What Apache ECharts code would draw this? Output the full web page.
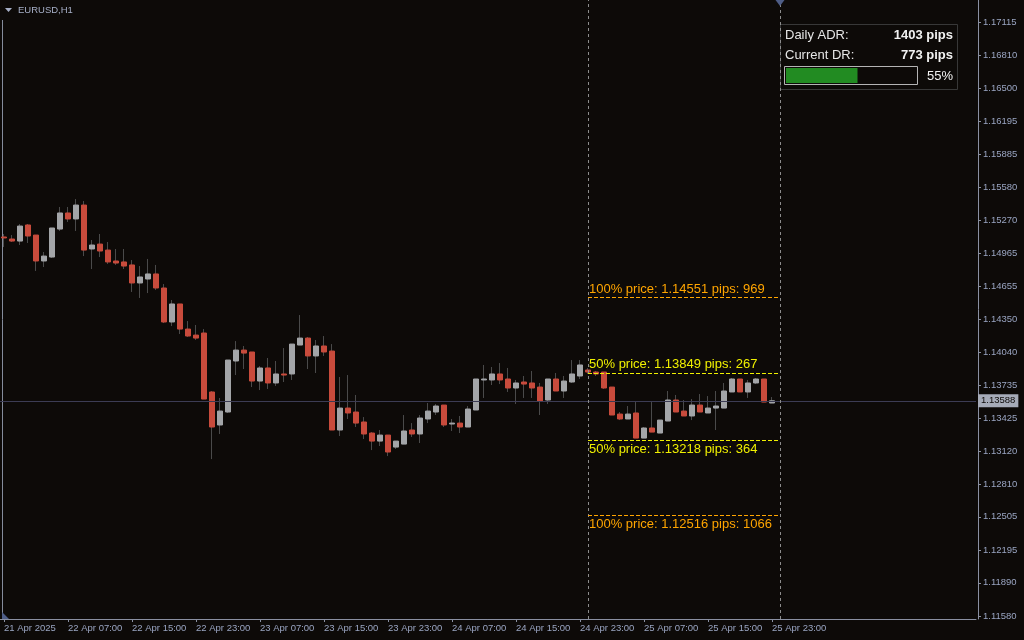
<!DOCTYPE html>
<html><head><meta charset="utf-8">
<script src="https://cdn.jsdelivr.net/npm/echarts@6/dist/echarts.min.js"></script>
<style>html,body{margin:0;padding:0;background:#0d0a08}#c{width:1024px;height:640px}</style>
</head><body><div id="c"></div>
<script>
const symbolName = "EURUSD,H1";
const tickLabels = ["21 Apr 2025","22 Apr 07:00","22 Apr 15:00","22 Apr 23:00","23 Apr 07:00","23 Apr 15:00","23 Apr 23:00","24 Apr 07:00","24 Apr 15:00","24 Apr 23:00","25 Apr 07:00","25 Apr 15:00","25 Apr 23:00"];
const opens = [1.15116,1.15097,1.15078,1.15228,1.15134,1.14892,1.14929,1.15190,1.15340,1.15284,
1.15414,1.15004,1.15050,1.14994,1.14892,1.14883,1.14855,1.14687,1.14724,1.14771,
1.14640,1.14323,1.14491,1.14257,1.14201,1.14220,1.13670,1.13362,1.13483,1.13959,
1.14061,1.14043,1.13772,1.13894,1.13754,1.13838,1.13838,1.14108,1.14173,1.14006,
1.14099,1.14052,1.13315,1.13520,1.13483,1.13390,1.13287,1.13212,1.13268,1.13156,
1.13184,1.13315,1.13278,1.13418,1.13483,1.13548,1.13371,1.13380,1.13343,1.13502,
1.13782,1.13782,1.13838,1.13791,1.13707,1.13763,1.13754,1.13716,1.13595,1.13791,
1.13679,1.13763,1.13819,1.13875,1.13856,1.13856,1.13716,1.13464,1.13418,1.13474,
1.13240,1.13334,1.13287,1.13399,1.13595,1.13492,1.13446,1.13548,1.13474,1.13520,
1.13520,1.13670,1.13791,1.13670,1.13754,1.13791,1.13567];
const closes = [1.15107,1.15078,1.15218,1.15125,1.14892,1.14938,1.15200,1.15340,1.15284,1.15414,
1.14994,1.15041,1.14985,1.14883,1.14873,1.14845,1.14687,1.14743,1.14771,1.14640,
1.14323,1.14491,1.14257,1.14192,1.14173,1.13604,1.13343,1.13492,1.13968,1.14061,
1.14033,1.13772,1.13894,1.13754,1.13838,1.13828,1.14117,1.14173,1.14006,1.14099,
1.14043,1.13315,1.13520,1.13474,1.13380,1.13278,1.13212,1.13268,1.13110,1.13212,
1.13306,1.13278,1.13427,1.13492,1.13539,1.13362,1.13380,1.13343,1.13511,1.13791,
1.13791,1.13838,1.13782,1.13707,1.13754,1.13744,1.13707,1.13586,1.13791,1.13679,
1.13772,1.13838,1.13922,1.13856,1.13838,1.13707,1.13455,1.13418,1.13464,1.13240,
1.13334,1.13296,1.13408,1.13595,1.13483,1.13446,1.13548,1.13483,1.13520,1.13539,
1.13679,1.13791,1.13670,1.13754,1.13791,1.13576,1.13588];
const highs = [1.15144,1.15134,1.15237,1.15237,1.15134,1.14976,1.15200,1.15396,1.15396,1.15470,
1.15452,1.15088,1.15144,1.15069,1.15004,1.15004,1.14901,1.14845,1.14911,1.14855,
1.14677,1.14528,1.14491,1.14332,1.14295,1.14257,1.13679,1.13614,1.13968,1.14145,
1.14099,1.14043,1.13912,1.13987,1.13959,1.14080,1.14117,1.14388,1.14183,1.14155,
1.14192,1.14117,1.13810,1.13828,1.13642,1.13436,1.13296,1.13315,1.13268,1.13212,
1.13455,1.13380,1.13455,1.13567,1.13558,1.13548,1.13418,1.13446,1.13539,1.13791,
1.13922,1.13903,1.13940,1.13894,1.13782,1.13819,1.13866,1.13754,1.13791,1.13847,
1.13819,1.13968,1.13968,1.13894,1.13866,1.13856,1.13716,1.13483,1.13539,1.13576,
1.13343,1.13576,1.13408,1.13679,1.13642,1.13595,1.13604,1.13651,1.13632,1.13679,
1.13754,1.13800,1.13791,1.13782,1.13800,1.13791,1.13623];
const lows = [1.15022,1.15069,1.15041,1.15060,1.14799,1.14836,1.14920,1.15172,1.15256,1.15172,
1.14938,1.14817,1.14929,1.14864,1.14855,1.14817,1.14603,1.14547,1.14593,1.14621,
1.14313,1.14285,1.14211,1.14183,1.14155,1.13604,1.13044,1.13278,1.13474,1.13828,
1.13884,1.13716,1.13688,1.13698,1.13726,1.13763,1.13782,1.14108,1.13884,1.13847,
1.14006,1.13315,1.13259,1.13418,1.13343,1.13231,1.13128,1.13166,1.13072,1.13138,
1.13184,1.13250,1.13194,1.13380,1.13455,1.13343,1.13306,1.13287,1.13343,1.13502,
1.13614,1.13735,1.13744,1.13670,1.13558,1.13614,1.13614,1.13455,1.13558,1.13679,
1.13614,1.13754,1.13791,1.13838,1.13819,1.13698,1.13455,1.13408,1.13418,1.13240,
1.13240,1.13296,1.13287,1.13399,1.13483,1.13446,1.13408,1.13483,1.13474,1.13315,
1.13520,1.13670,1.13670,1.13614,1.13744,1.13576,1.13567];
const yTicks = [1.17115,1.16810,1.16500,1.16195,1.15885,1.15580,1.15270,1.14965,1.14655,1.14350,1.14040,1.13735,1.13425,1.13120,1.12810,1.12505,1.12195,1.11890,1.11580];
const currentPrice = 1.13588;
const levelNames = ["100% price: 1.14551 pips: 969","50% price: 1.13849 pips: 267","50% price: 1.13218 pips: 364","100% price: 1.12516 pips: 1066"];
const levelPrices = [1.14551,1.13849,1.13218,1.12516];
const infoLabels = ["Daily ADR:","Current DR:"];
const infoValues = [1403, 773];

const Y_MIN = 1.11552, Y_MAX = 1.17327;
const SLOTS = 122;           // visible bar slots incl. chart shift
const DAY_START = 73, SHIFT_START = 97;
const BG = '#0d0a08', AX = '#9aa5c2', WICK = '#4a4a4a', UP = '#a3a5a8', DOWN = '#c84b3c';
const FONT = "'Liberation Sans', Arial, sans-serif";

const categories = Array.from({length: SLOTS}, (_, i) => {
  const d = new Date(Date.UTC(2025, 3, 21, 23) + i * 3600e3);
  const m = ['Jan','Feb','Mar','Apr','May','Jun','Jul','Aug','Sep','Oct','Nov','Dec'][d.getUTCMonth()];
  return d.getUTCDate() + ' ' + m + ' ' + String(d.getUTCHours()).padStart(2,'0') + ':00';
});
const wickData = opens.map((o, i) => [o, closes[i], lows[i], highs[i]]);
const bodyData = opens.map((o, i) => [o, closes[i], Math.min(o, closes[i]), Math.max(o, closes[i])]);
const isTick = idx => idx % 8 === 0 && idx / 8 < tickLabels.length;

const levelColors = ['#ffa500','#f0f000','#f0f000','#ffa500'];
const levelLines = levelPrices.map((p, i) => [
  {coord: [DAY_START, p], lineStyle: {color: levelColors[i], type: [4, 2], width: 1},
   label: {show: true, formatter: levelNames[i], color: levelColors[i], fontSize: 13, fontFamily: FONT,
           position: i < 2 ? 'insideStartTop' : 'insideStartBottom', distance: [1, 2]}},
  {coord: [SHIFT_START, p]}
]);

const pct = Math.round(infoValues[1] / infoValues[0] * 100);
const chart = echarts.init(document.getElementById('c'), null, {renderer: 'canvas'});
chart.setOption({
  backgroundColor: BG,
  animation: false,
  grid: {left: 0, right: 48, top: 0, bottom: 21, containLabel: false, outerBoundsMode: 'none'},
  xAxis: {
    type: 'category', data: categories, boundaryGap: true,
    axisLine: {lineStyle: {color: '#8a90a2', width: 1}},
    axisTick: {show: true, alignWithLabel: true, length: 3, interval: (idx) => isTick(idx), lineStyle: {color: '#8a90a2'}},
    axisLabel: {interval: (idx) => isTick(idx), formatter: (v, idx) => tickLabels[idx / 8], align: 'left',
                color: AX, fontSize: 9.5, fontFamily: FONT, margin: 4},
    splitLine: {show: false}
  },
  yAxis: {
    type: 'value', position: 'right', min: Y_MIN, max: Y_MAX, offset: 2, scale: true,
    axisLine: {show: true, lineStyle: {color: '#8a90a2'}},
    axisTick: {show: true, length: 3, customValues: yTicks, lineStyle: {color: '#8a90a2'}},
    axisLabel: {customValues: yTicks, formatter: v => v.toFixed(5), color: AX, fontSize: 9.5, fontFamily: FONT, margin: 5},
    splitLine: {show: false}
  },
  series: [
    {
      type: 'line', name: 'guides', data: [], silent: true, showSymbol: false, z: 1,
      markLine: {
        silent: true, symbol: ['none','none'], animation: false, precision: 5,
        data: [
          {yAxis: currentPrice, lineStyle: {color: '#3c3c54', type: 'solid', width: 1},
           label: {show: true, position: 'end', formatter: currentPrice.toFixed(5), backgroundColor: '#a6abb8',
                   color: '#0d0a08', fontSize: 9.5, fontFamily: FONT, padding: [2, 3, 1, 3], distance: 2}},
          {xAxis: DAY_START, lineStyle: {color: '#8c8c8c', type: [3, 3], width: 1}, label: {show: false}},
          {xAxis: SHIFT_START, lineStyle: {color: '#8c8c8c', type: [3, 3], width: 1}, label: {show: false}}
        ]
      },
      markPoint: {
        silent: true, animation: false,
        data: [{coord: [SHIFT_START, Y_MAX], symbol: 'triangle', symbolSize: [9, 6], symbolRotate: 180, symbolOffset: [0, 3],
                itemStyle: {color: '#4e5d86'}, label: {show: false}}]
      }
    },
    {
      type: 'candlestick', name: 'wick', data: wickData, barWidth: 0.1, silent: true, z: 2,
      itemStyle: {color: WICK, color0: WICK, borderColor: WICK, borderColor0: WICK, borderWidth: 1}
    },
    {
      type: 'candlestick', name: 'body', data: bodyData, barWidth: 6, silent: true, z: 3,
      itemStyle: {color: UP, color0: DOWN, borderColor: UP, borderColor0: DOWN, borderWidth: 1},
      markLine: {silent: true, symbol: ['none','none'], animation: false, precision: 5, data: levelLines}
    }
  ],
  graphic: [
    {type: 'line', shape: {x1: 2.5, y1: 20, x2: 2.5, y2: 619}, style: {stroke: '#858c9c', lineWidth: 1}},
    {type: 'polygon', shape: {points: [[2, 612], [2, 619], [9, 619]]}, style: {fill: '#4e5d86'}},
    {type: 'polygon', shape: {points: [[5, 8], [12, 8], [8.5, 12]]}, style: {fill: '#a7b0c8'}},
    {type: 'text', x: 18, y: 10, style: {text: symbolName, fill: '#a7b0c8', font: '9.5px ' + FONT, verticalAlign: 'middle'}},
    {type: 'rect', shape: {x: 780.5, y: 24.5, width: 177, height: 65}, style: {fill: BG, stroke: '#383838', lineWidth: 1}},
    {type: 'text', x: 785, y: 35, style: {text: infoLabels[0], fill: '#e6e6e6', font: '13px ' + FONT, verticalAlign: 'middle'}},
    {type: 'text', x: 953, y: 35, style: {text: infoValues[0] + ' pips', fill: '#f2f2f2', font: 'bold 13px ' + FONT, align: 'right', verticalAlign: 'middle'}},
    {type: 'text', x: 785, y: 55, style: {text: infoLabels[1], fill: '#e6e6e6', font: '13px ' + FONT, verticalAlign: 'middle'}},
    {type: 'text', x: 953, y: 55, style: {text: infoValues[1] + ' pips', fill: '#f2f2f2', font: 'bold 13px ' + FONT, align: 'right', verticalAlign: 'middle'}},
    {type: 'rect', shape: {x: 784.5, y: 66.5, width: 133, height: 18}, style: {fill: BG, stroke: '#b4b4b4', lineWidth: 1}},
    {type: 'rect', shape: {x: 786, y: 68, width: 130 * pct / 100, height: 15}, style: {fill: '#228b22'}},
    {type: 'text', x: 953, y: 76, style: {text: pct + '%', fill: '#f2f2f2', font: '13px ' + FONT, align: 'right', verticalAlign: 'middle'}}
  ]
});
</script></body></html>
